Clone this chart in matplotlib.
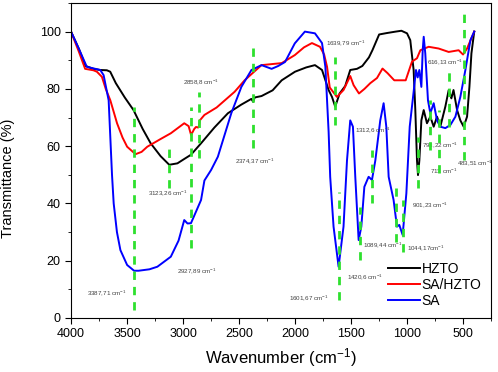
import matplotlib
matplotlib.use("Agg")
import matplotlib.pyplot as plt
import matplotlib.ticker as mticker

plt.rcParams['font.family'] = ['Liberation Sans', 'DejaVu Sans']
plt.rcParams['mathtext.default'] = 'regular'

# HZTO (black)
hzto_x = [4000, 3930, 3870, 3800, 3740, 3680, 3650, 3600, 3520, 3442, 3360, 3289, 3200, 3123,
          3050, 2990, 2929, 2839, 2720, 2599, 2480, 2390, 2374, 2360, 2299, 2200, 2119, 2000,
          1900, 1822, 1759, 1700, 1670, 1641, 1602, 1552, 1507, 1447, 1399, 1340, 1309, 1249,
          1180, 1102, 1050, 1000, 971, 941, 926, 911, 902, 890, 872, 851, 822, 792, 762, 732,
          703, 658, 628, 604, 585, 553, 524, 494, 464, 443, 425, 400]
hzto_y = [100, 94, 88, 87, 86.6, 86.5, 86, 82, 77, 72.6, 66, 61, 56.5, 53.5,
          54, 55.5, 57, 61, 66.5, 71.5, 74.5, 76.5, 75.5, 77, 77.5, 79.5, 83, 86,
          87.5, 88.3, 86.6, 79.6, 77.2, 73.8, 78.4, 81, 86.6, 87, 88, 91, 93.5, 99,
          99.5, 100, 100.3, 99.4, 97, 86.6, 72.6, 55, 49.9, 55, 69, 72.6, 68, 70.3, 66.8, 70.3,
          66.8, 73.8, 79.6, 76.7, 79.6, 72.6, 69, 66.8, 70.3, 80.7, 92.4, 100]

# SA/HZTO (red)
sahzto_x = [4000, 3930, 3874, 3800, 3769, 3724, 3690, 3649, 3589, 3540, 3499, 3424, 3370, 3319,
            3200, 3109, 2989, 2950, 2928, 2900, 2884, 2865, 2858, 2850, 2809, 2700, 2539, 2450,
            2365, 2299, 2119, 2002, 1920, 1849, 1777, 1740, 1714, 1690, 1626, 1567, 1507, 1477,
            1429, 1380, 1328, 1268, 1219, 1174, 1114, 1012, 956, 911, 881, 807, 718, 628, 539,
            500, 464, 400]
sahzto_y = [100, 93, 87, 86.5, 86, 84.2, 80, 76, 68, 63, 59.8, 57.2, 58, 59.8,
            62.5, 64.5, 68, 67, 63.9, 66, 66.7, 66.5, 67, 69, 70.9, 73.5, 79, 83,
            86, 88.3, 89, 91.8, 94.5, 96, 94.7, 92, 87.7, 80.5, 77.2, 79.6, 84.5, 81.3,
            78.4, 80, 82, 83.8, 87.1, 85.5, 83, 83, 89.5, 90.7, 93.5, 94.7, 94.1, 92.9, 93.5,
            92, 94.1, 100]

# SA (blue)
sa_x = [4000, 3930, 3859, 3739, 3709, 3664, 3634, 3619, 3590, 3559, 3499, 3437, 3397, 3300,
        3229, 3109, 3040, 2989, 2960, 2929, 2880, 2839, 2809, 2749, 2689, 2569, 2479, 2389,
        2299, 2209, 2150, 2089, 2002, 1912, 1822, 1759, 1729, 1700, 1686, 1656, 1611, 1567,
        1536, 1507, 1483, 1462, 1432, 1408, 1381, 1343, 1313, 1283, 1239, 1209, 1185, 1164,
        1120, 1090, 1069, 1039, 1006, 976, 941, 920, 905, 890, 872, 860, 851, 837, 813, 792,
        762, 732, 703, 658, 613, 568, 524, 479, 434, 400]
sa_y = [100, 94, 87.7, 86.6, 84.8, 76, 50, 40, 30, 23.7, 18.5, 16.5, 16.5, 17,
        17.9, 21.4, 27, 34.2, 33, 33.1, 37.5, 41.2, 48, 51.7, 56.3, 71.5, 80.7, 86.6,
        88.3, 87, 88, 89.4, 95.9, 100, 99.4, 96, 87.7, 65, 49.3, 31.9, 17.9, 31.9,
        55, 69, 66.8, 49.3, 27.2, 31.9, 45.8, 49.3, 48.2, 55, 69, 75, 66.8, 49.3,
        41.2, 31.9, 32.5, 29, 43.5, 66.8, 79, 86.6, 84, 86.6, 80.7, 93.5, 98.2, 92.4, 76, 71.5,
        75, 69, 66.8, 66.3, 67.4, 70.3, 77.2, 86.6, 97, 100]

# green marker lines: position, bottom, top
mark_x = [3437, 3124, 2930, 2856, 2376, 1641, 1611, 1424, 1313, 1096, 1036, 902, 792, 712, 622, 494]
mark_lo = [2.8, 45.4, 24.4, 55.8, 59.3, 67.4, 6.3, 20.2, 40.1, 26.6, 23.1, 45.4, 58.6, 50.6, 66.7, 55]
mark_hi = [73.6, 61, 73.6, 79, 96, 91.2, 44, 38.8, 58.6, 45.4, 41.2, 63.3, 76, 72.6, 86, 106]

# peak labels: text, x, y
peak_text = ["3387,71 cm$^{-1}$", "3123,26 cm$^{-1}$", "2927,89 cm$^{-1}$", "2858,8 cm$^{-1}$",
             "2374,37 cm$^{-1}$", "1639,79 cm$^{-1}$", "1312,6 cm$^{-1}$", "616,13 cm$^{-1}$",
             "793,22 cm$^{-1}$", "713 cm$^{-1}$", "483,51 cm$^{-1}$", "901,23 cm$^{-1}$",
             "1089,44 cm$^{-1}$", "1044,17cm$^{-1}$", "1420,6 cm$^{-1}$", "1601,67 cm$^{-1}$"]
peak_x = [3857, 3312, 3053, 3000, 2534, 1721, 1462, 819, 864, 792, 551, 953, 1391, 998, 1534, 2052]
peak_y = [8.8, 43.5, 16.4, 82.5, 54.6, 95.9, 65.6, 89.5, 60.4, 51.1, 54, 39.4, 25.5, 24.3, 14.4, 6.9]

fig = plt.figure(figsize=(4.98, 3.72), dpi=100)
ax = fig.add_axes([0.1426, 0.1452, 0.8434, 0.8468])

ax.plot(hzto_x, hzto_y, color='black', lw=1.4, label='HZTO')
ax.plot(sahzto_x, sahzto_y, color='#ff0000', lw=1.4, label='SA/HZTO')
ax.plot(sa_x, sa_y, color='#0000ff', lw=1.4, label='SA')

ax.vlines(mark_x, mark_lo, mark_hi, colors='#2ee02e', lw=2, linestyles=[(0, (3, 2.5))], zorder=5)

for t, x, y in zip(peak_text, peak_x, peak_y):
    ax.text(x, y, t, fontsize=4.5, color='#404040', ha='left', va='center')

ax.set_xlim(4000, 250)
ax.set_ylim(0, 110)
ax.xaxis.set_major_locator(mticker.MultipleLocator(500))
ax.xaxis.set_minor_locator(mticker.MultipleLocator(250))
ax.yaxis.set_major_locator(mticker.MultipleLocator(20))
ax.yaxis.set_minor_locator(mticker.MultipleLocator(10))
ax.tick_params(which='both', direction='out', labelsize=9)
ax.tick_params(which='major', length=4)
ax.tick_params(which='minor', length=2.5)

ax.set_xlabel('Wavenumber (cm$^{-1}$)', fontsize=12)
ax.set_ylabel('Transmittance (%)', fontsize=10.5)
ax.yaxis.set_label_coords(-0.133, 0.444)

ax.legend(loc='lower right', bbox_to_anchor=(1.0, 0.0), frameon=False, fontsize=10,
          handlelength=2.3, handletextpad=0.1, labelspacing=0.15, borderaxespad=0.3)

fig.savefig('out.png', dpi=100)
